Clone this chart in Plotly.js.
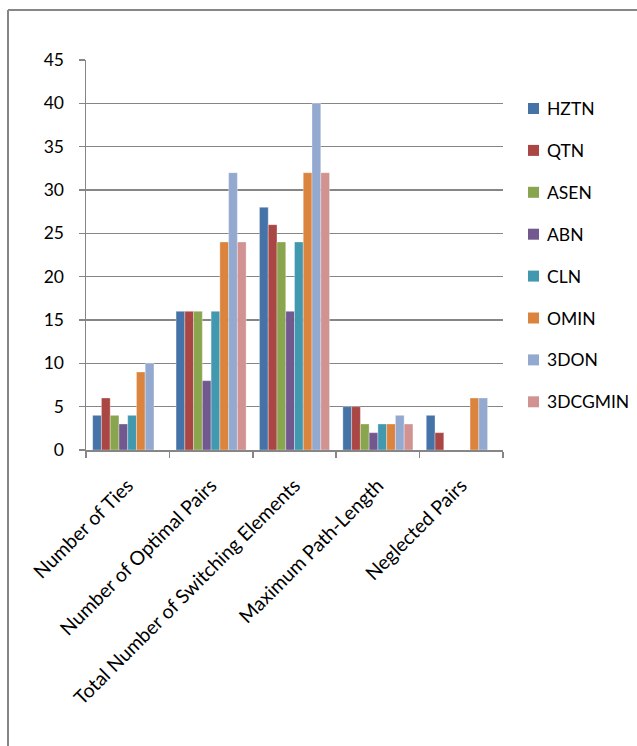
<!DOCTYPE html>
<html>
<head>
<meta charset="utf-8">
<script src="https://cdn.plot.ly/plotly-3.0.1.min.js"></script>
<style>
  html, body { margin: 0; padding: 0; background: #fff; }
  #chart { width: 637px; height: 746px; }
</style>
</head>
<body>
<div id="chart"></div>
<script>
const categories = [
  "Number of Ties",
  "Number of Optimal Pairs",
  "Total Number of Switching Elements",
  "Maximum Path-Length",
  "Neglected Pairs"
];
const seriesNames = ["HZTN", "QTN", "ASEN", "ABN", "CLN", "OMIN", "3DON", "3DCGMIN"];
const seriesColors = ["#4572A7", "#AA4643", "#89A54E", "#71588F", "#4198AF", "#DB843D", "#93A9CF", "#D19392"];
const HZTN    = [4, 16, 28, 5, 4];
const QTN     = [6, 16, 26, 5, 2];
const ASEN    = [4, 16, 24, 3, null];
const ABN     = [3, 8, 16, 2, null];
const CLN     = [4, 16, 24, 3, null];
const OMIN    = [9, 24, 32, 3, 6];
const DON3    = [10, 32, 40, 4, 6];
const DCGMIN3 = [null, 24, 32, 3, null];
const seriesValues = [HZTN, QTN, ASEN, ABN, CLN, OMIN, DON3, DCGMIN3];
const yTicks = [0, 5, 10, 15, 20, 25, 30, 35, 40, 45];

const FONT = "Lato, 'Open Sans', sans-serif";
const gray = "#868686";

// plot-area geometry (px) used to place the legend and frame in paper units
const W = 637, H = 746;
const M = { l: 86, r: 134, t: 60, b: 296 };
const PW = W - M.l - M.r, PH = H - M.t - M.b;
const px2x = px => (px - M.l) / PW;
const px2y = py => (H - M.b - py) / PH;

const traces = seriesNames.map((name, i) => ({
  type: "bar",
  name: name,
  x: categories,
  y: seriesValues[i],
  marker: { color: seriesColors[i], line: { color: "rgba(255,255,255,0.55)", width: 0.6 } }
}));

// legend drawn as shapes + annotations (keeps plot area fixed)
const legendShapes = [];
const legendAnnots = [];
seriesNames.forEach((name, i) => {
  const cy = 108.5 + 41.9 * i;
  legendShapes.push({
    type: "rect", xref: "paper", yref: "paper",
    x0: px2x(528), x1: px2x(539), y0: px2y(cy - 5.5), y1: px2y(cy + 5.5),
    fillcolor: seriesColors[i], line: { width: 0 }
  });
  legendAnnots.push({
    xref: "paper", yref: "paper", x: px2x(545), y: px2y(cy),
    xanchor: "left", yanchor: "middle", showarrow: false,
    text: name, font: { family: FONT, size: 17.5, color: "#000" }
  });
});

const layout = {
  width: W,
  height: H,
  margin: M,
  paper_bgcolor: "#fff",
  plot_bgcolor: "#fff",
  font: { family: FONT, size: 17, color: "#000" },
  barmode: "group",
  bargap: 0.16,
  bargroupgap: 0,
  showlegend: false,
  xaxis: {
    type: "category",
    tickangle: -45,
    ticks: "outside",
    tickson: "boundaries",
    ticklen: 6,
    tickwidth: 1.5,
    tickcolor: gray,
    ticklabelstandoff: 15,
    showline: true,
    linecolor: gray,
    linewidth: 1.5,
    showgrid: false,
    tickfont: { family: FONT, size: 19.5, color: "#000" },
    automargin: false
  },
  yaxis: {
    range: [0, 45],
    tickvals: yTicks,
    ticktext: yTicks.map(String),
    ticks: "outside",
    ticklen: 6,
    tickwidth: 1.5,
    tickcolor: gray,
    ticklabelstandoff: 11,
    showline: true,
    linecolor: gray,
    linewidth: 1.5,
    showgrid: true,
    gridcolor: gray,
    gridwidth: 1.6,
    zeroline: false,
    tickfont: { family: FONT, size: 17.5, color: "#000" },
    automargin: false
  },
  shapes: [
    { type: "line", xref: "paper", yref: "paper", x0: px2x(8), x1: px2x(8), y0: px2y(10), y1: px2y(760), line: { color: gray, width: 2 } },
    { type: "line", xref: "paper", yref: "paper", x0: px2x(8), x1: px2x(650), y0: px2y(10), y1: px2y(10), line: { color: gray, width: 2 } }
  ].concat(legendShapes),
  annotations: legendAnnots
};

Plotly.newPlot("chart", traces, layout, { displayModeBar: false, staticPlot: true });
</script>
</body>
</html>
